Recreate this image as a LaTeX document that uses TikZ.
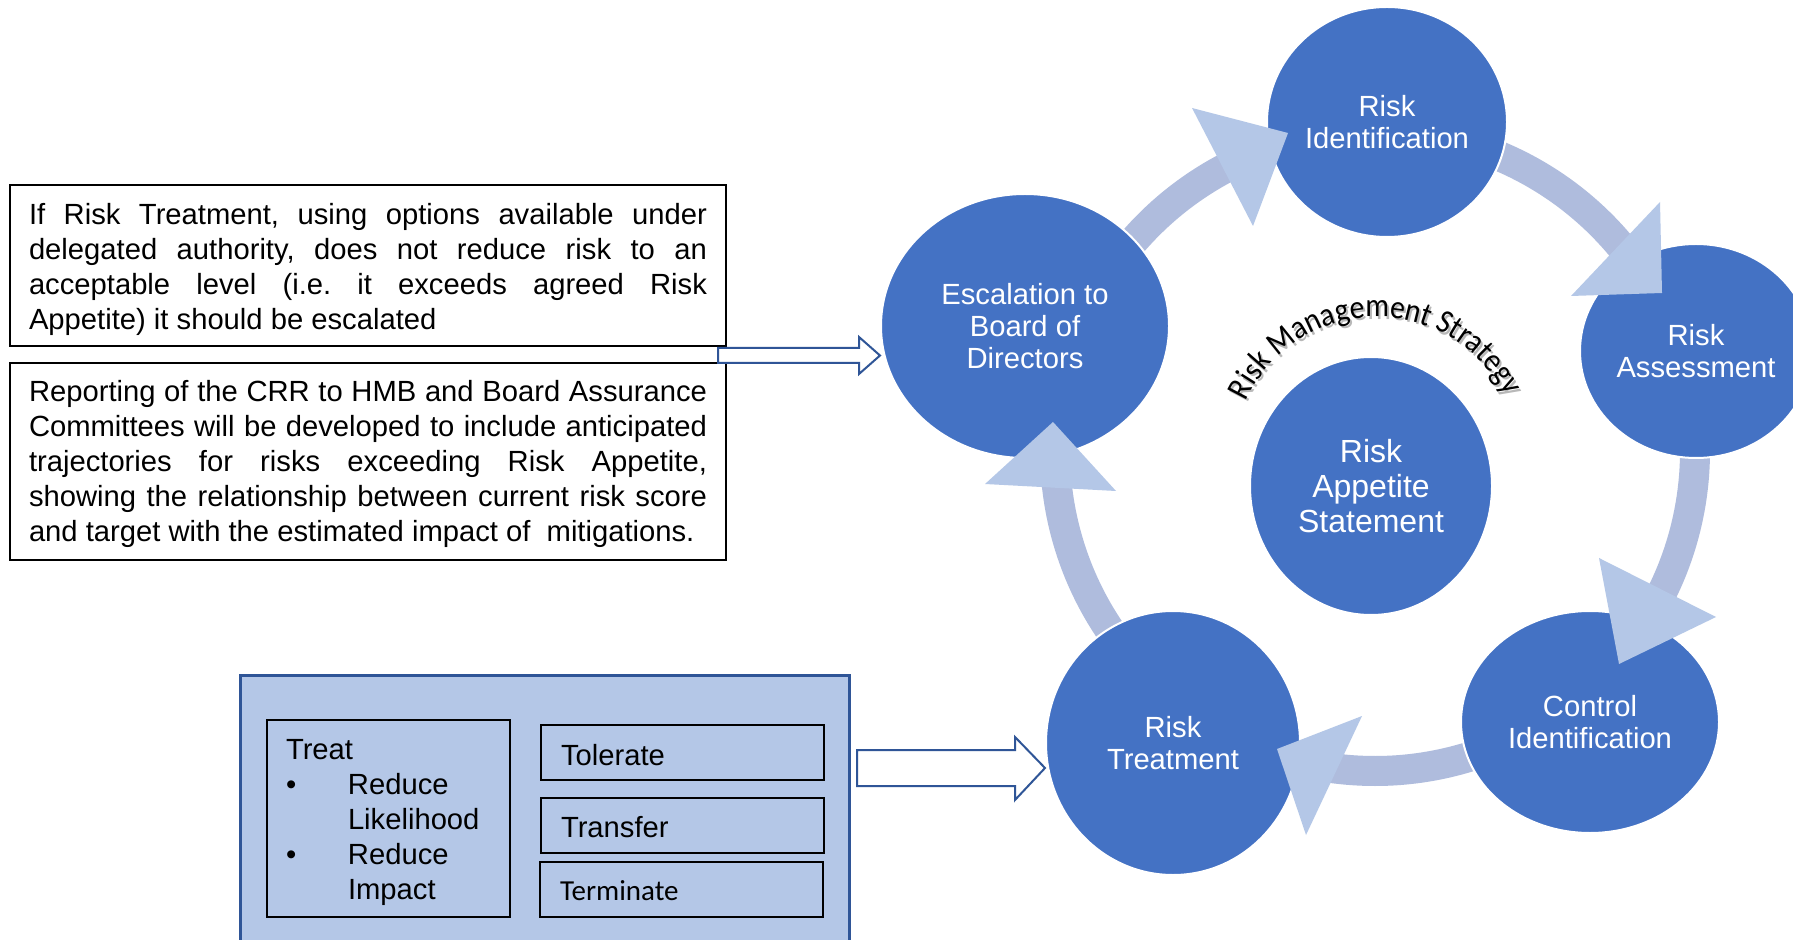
\documentclass[tikz,border=0pt]{standalone}
\usepackage{fontspec}
\setmainfont{Liberation Sans}
\newfontfamily\calibri{Carlito}
\newfontfamily\calibriarch{Carlito}[FakeStretch=0.9]
\usetikzlibrary{shapes.geometric, decorations.text}
\definecolor{nodeblue}{HTML}{4472C4}
\definecolor{bandblue}{HTML}{AFBCDD}
\definecolor{headblue}{HTML}{B4C7E7}
\definecolor{panelblue}{HTML}{B4C7E7}
\definecolor{edgeblue}{HTML}{2F5597}
\frenchspacing
\begin{document}
\begin{tikzpicture}[x=0.5pt, y=0.5pt,
  stage/.style={ellipse, fill=nodeblue, draw=white, line width=1pt, inner sep=0pt,
    text=white, align=center, font=\fontsize{14.6}{15.8}\selectfont},
  band/.style={draw=bandblue, line width=15pt},
  head/.style={fill=headblue},
  note/.style={draw=black, line width=0.8pt, inner xsep=9.5pt, inner ysep=0pt,
    text width=339pt, align=justify, minimum width=358pt,
    font=\fontsize{14.6}{17.5}\selectfont},
  option/.style={draw=black, line width=1pt, inner xsep=10pt, inner ysep=0pt,
    text width=121.5pt, align=left, minimum height=27.5pt,
    font=\fontsize{14.6}{17.5}\selectfont},
  hollow/.style={fill=white, draw=edgeblue, line width=1pt, line join=miter},
  arch/.style={decorate, decoration={text along path, text align=center,
    text={|\calibriarch\fontsize{16.5}{19}\selectfont#1|Risk Management Strategy}}}
]
\useasboundingbox (0,0) rectangle (1793,-940);
\clip (0,0) rectangle (1793,-940);
\fill[white] (0,0) rectangle (1793,-940);

% circular flow bands on the ring
\coordinate (ring) at (1375,-451);
\draw[band] (ring) ++(142:320) arc[start angle=142, end angle=115, radius=320];
\draw[band] (ring) ++(70:320) arc[start angle=70, end angle=37, radius=320];
\draw[band] (ring) ++(2:320) arc[start angle=2, end angle=-28, radius=320];
\draw[band] (ring) ++(-68:320) arc[start angle=-68, end angle=-100, radius=320];
\draw[band] (ring) ++(217:320) arc[start angle=217, end angle=184, radius=320];

% process stages
\node[stage, minimum width=144pt, minimum height=132pt] (esc) at (1025,-326)
  {Escalation to\\Board of\\Directors};
\node[stage, minimum width=120pt, minimum height=115pt] (rid) at (1387,-122)
  {Risk\\Identification};
\node[stage, minimum width=116pt, minimum height=107pt] (ras) at (1696,-351)
  {Risk\\Assessment};
\node[stage, minimum width=129pt, minimum height=111pt] (cid) at (1590,-722)
  {Control\\Identification};
\node[stage, minimum width=127pt, minimum height=132pt] (rtr) at (1173,-743)
  {Risk\\Treatment};
\node[stage, minimum width=121pt, minimum height=129pt,
  font=\fontsize{16}{17.5}\selectfont] (ras2) at (1371,-486)
  {Risk\\Appetite\\Statement};

% arrow heads of the cycle
\fill[head] (1192,-108) -- (1288,-133) -- (1253,-226) -- cycle;
\fill[head] (1660,-202) -- (1662,-293) -- (1571,-296) -- cycle;
\fill[head] (1599,-558) -- (1716,-617) -- (1619,-664) -- cycle;
\fill[head] (1362,-716) -- (1277,-749) -- (1306,-835) -- cycle;
\fill[head] (1053,-422) -- (1116,-491) -- (985,-484) -- cycle;

% curved title above the centre stage, with a soft shadow
\coordinate (rms) at (1377,-461);
\path[arch=\color{black!28}] ([xshift=1pt, yshift=-1.3pt]rms) ++(176:144)
  arc[start angle=176, end angle=6, radius=144];
\path[arch=] (rms) ++(176:144) arc[start angle=176, end angle=6, radius=144];

% explanatory notes
\node[note, minimum height=80.5pt] (escnote) at (368,-265.5)
  {\rule{0pt}{14.1pt}If Risk Treatment, using options available under\linebreak
   delegated authority, does not reduce risk to an\linebreak
   acceptable level (i.e. it exceeds agreed Risk\linebreak
   Appetite) it should be escalated};
\node[note, minimum height=98.5pt] (crr) at (368,-461.5)
  {\rule{0pt}{12.8pt}Reporting of the CRR to HMB and Board Assurance\linebreak
   Committees will be developed to include anticipated\linebreak
   trajectories for risks exceeding Risk Appetite,\linebreak
   showing the relationship between current risk score\linebreak
   and target with the estimated impact of\ \ mitigations.};

% hollow arrow from the notes to the escalation stage
\draw[hollow] (718,-348) -- (859,-348) -- (859,-337) -- (esc.west |- 0,-355.5)
  -- (859,-374) -- (859,-363) -- (718,-363) -- cycle;

% treatment options panel
\draw[fill=panelblue, draw=edgeblue, line width=1.5pt] (240,-675) rectangle (849,-960);
\node[option, text width=102.5pt, inner xsep=9.5pt, minimum height=98.5pt] (treat) at (388.5,-818.5)
  {\rule{0pt}{13.9pt}Treat\\
   \makebox[31pt][l]{\textbullet}Reduce\\
   \hspace*{31pt}Likelihood\\
   \makebox[31pt][l]{\textbullet}Reduce\\
   \hspace*{31pt}Impact};
\node[option] (tolerate) at (682.5,-752.5) {\rule{0pt}{12.8pt}Tolerate};
\node[option] (transfer) at (682.5,-825.5) {\rule{0pt}{11.8pt}Transfer};
\node[option, font=\calibri\fontsize{14.5}{17.5}\selectfont] (terminate) at (681.5,-889.5)
  {\rule{0pt}{11.5pt}Terminate};

% hollow arrow from the panel to the treatment stage
\draw[hollow] (857,-750) -- (1015,-750) -- (1015,-737) -- (rtr.west |- 0,-768)
  -- (1015,-800) -- (1015,-786) -- (857,-786) -- cycle;
\end{tikzpicture}
\end{document}
